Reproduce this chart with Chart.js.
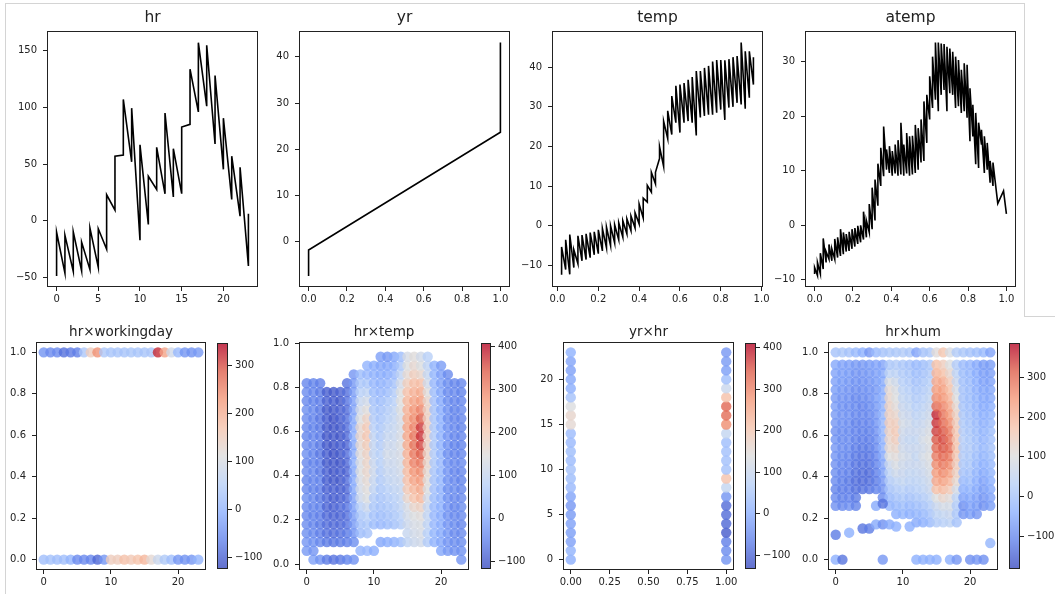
<!DOCTYPE html>
<html>
<head>
<meta charset="utf-8">
<script src="https://cdn.jsdelivr.net/npm/chart.js@4"></script>
<style>
  body { margin: 0; background: #fff; width: 1055px; height: 594px; overflow: hidden; position: relative; }
  .ln { position: absolute; border-color: #d4d4d4; border-style: solid; border-width: 0; }
</style>
</head>
<body>
<div class="ln" style="left:5px;top:3px;width:1018px;height:313px;border-width:1px 1px 0 1px"></div>
<div class="ln" style="left:5px;top:316px;width:0;height:278px;border-left-width:1px"></div>
<div class="ln" style="left:1024px;top:316px;width:31px;height:0;border-top-width:1px"></div>
<script>
// === data ===
const _ = null;
const hrX = [0,1,2,3,4,5,6,7,8,9,10,11,12,13,14,15,16,17,18,19,20,21,22,23];

// top row: line plots, each x has a low and a high value
const hrLow  = [-48.6,-46,-44.5,-44,-43,-41,-25,9.4,58,52,-17,-3.2,27.6,23.8,21,24,85,96,101,67.7,45.4,18.8,4.1,-39.8];
const hrHigh = [-10,-12.6,-9.6,-18.7,-6.4,-7,23,57,107,99.3,67,39.3,64.8,95,63.6,82.6,133.6,157,154.7,128,90.5,57,47.2,6.2];

const yrX = [0, 0, 1, 1];
const yrY = [-7.4, -1.8, 23.7, 43.1];

const tempX = [0.02,0.04,0.06,0.08,0.10,0.12,0.14,0.16,0.18,0.20,0.22,0.24,0.26,0.28,0.30,0.32,0.34,0.36,0.38,0.40,0.42,0.44,0.46,0.48,
               0.50,0.52,0.54,0.56,0.58,0.60,0.62,0.64,0.66,0.68,0.70,0.72,0.74,0.76,0.78,0.80,0.82,0.84,0.86,0.88,0.90,0.92,0.94,0.96];
const tempLow  = [-12.3,-11,-12.2,-10.5,-9.5,-8.8,-8.5,-8,-7.3,-7,-6.3,-5.5,-5,-4.3,-3.5,-2.8,-2,-1.2,-0.5,0.5,2,6,8.5,10.6,
                  17,15,22,23,26,23.5,26,26.4,26,22.8,27.3,27.7,28,28,28.5,29.3,26.7,29.8,30,31,30.6,29.5,32.3,35.6];
const tempHigh = [-5.3,-3.5,-2.2,-6,-2.5,-2.3,-2,-1.7,-1.5,-1,-0.7,-0.3,0,0.3,0.8,1.3,1.8,2.5,3.3,5.5,7,10.2,13.5,13.5,
                  20,26.4,29,32.7,35.3,35.6,36,36.8,37.5,39,39,39.8,40.3,41.4,41.8,41.8,41.7,42,42.5,42.8,46.2,44,44,42.5];

const atempX = [0,0.015,0.03,0.045,0.06,0.075,0.09,0.105,0.12,0.135,0.15,0.165,0.18,0.195,0.21,0.225,0.24,0.255,0.27,0.285,
                0.30,0.315,0.33,0.345,0.36,0.375,0.39,0.405,0.42,0.435,0.45,0.465,0.48,0.495,0.51,0.525,0.54,0.555,0.57,0.585,
                0.60,0.615,0.63,0.645,0.66,0.675,0.69,0.705,0.72,0.735,0.75,0.765,0.78,0.795,0.81,0.825,0.84,0.855,0.87,0.885,
                0.90,0.915,0.93,0.955,0.985,1.0];
const atempLow  = [-8.9,-9.2,-8.9,-8,-6.8,-6.2,-6.5,-6.2,-5.9,-5.6,-5.3,-4.8,-4.7,-4.3,-3.9,-3.4,-3.1,-2.6,-2.2,-1.3,
                   -0.7,0.9,3.6,7.2,9,10.2,9.6,9.1,9.5,9.1,9.3,9.1,9.5,9.1,9.3,9.6,10.2,11.5,11.8,15.1,
                   19.4,21.5,23,20.9,23.9,24.8,20.9,24.2,23.9,21.5,21.8,20.6,20.9,19.7,15.4,16.3,11.2,10.5,14.8,9.6,
                   10.2,7.8,7.2,4,6.3,2.1];
const atempHigh = [-7.7,-6.8,-5.1,-2.4,-4.8,-3.5,-4.3,-2.5,-2.2,-0.7,-1.3,-1.6,-1.2,-0.7,-0.5,-0.1,0,2.5,0.9,3.9,
                   6.9,8.4,11.3,14.2,18.1,13.9,14.5,13.6,14.8,15.6,18.8,14.8,16.9,16.3,16.4,18.4,17.8,19.4,22.7,23.9,
                   27.3,30.9,33.5,33.5,33.3,33.2,32.7,32.4,31.8,30.9,30.3,28.5,29.7,29.4,25.1,22.1,20.6,18.8,17.5,16.3,
                   15.1,11.8,11.5,_,_,_];

// tick labels
const hrYTicks = [-50, 0, 50, 100, 150];
const hrXTicks = [0, 5, 10, 15, 20];
const unitTicks = [0, 0.2, 0.4, 0.6, 0.8, 1.0];
const yrYTicks = [0, 10, 20, 30, 40];
const tempYTicks = [-10, 0, 10, 20, 30, 40];
const atempYTicks = [-10, 0, 10, 20, 30];
const hr10Ticks = [0, 10, 20];
const quarterTicks = [0, 0.25, 0.5, 0.75, 1.0];
const hr5Ticks = [0, 5, 10, 15, 20];
const cb300Ticks = [-100, 0, 100, 200, 300];
const cb400Ticks = [-100, 0, 100, 200, 300, 400];

// bottom row: hr x workingday (colour value per hour)
const wd1Vals = [-44,-55,-55,-85,-75,-70,36,150,238,36,30,30,28,32,30,30,34,322,214,88,10,-40,-45,-35];
const wd0Vals = [20,22,18,20,0,-55,-55,-60,-95,-40,150,150,175,160,170,190,125,80,40,20,-40,-45,-40,0];

// hr x temp: temp levels and colour value per hour (rows) and level (columns)
const tempLevels = [0.02,0.06,0.10,0.14,0.18,0.22,0.26,0.30,0.34,0.38,0.42,0.46,0.50,0.54,0.58,0.62,0.66,0.70,0.74,0.78,0.82,0.86,0.90,0.94];
const hrTempVals = [
  [_,-20,-25,-35,-40,-45,-40,-35,-45,-50,-40,-45,-35,-40,-50,-45,-40,-35,-45,-40,-45,_,_,_],
  [-10,-25,-30,-40,-45,-50,-45,-40,-50,-45,-40,-50,-45,-40,-45,-50,-45,-40,-50,-45,-50,_,_,_],
  [-30,_,-45,-55,-60,-55,-50,-60,-55,-50,-60,-55,-65,-60,-55,-60,-65,-60,-55,-60,-55,_,_,_],
  [-60,_,-60,-70,-75,-80,-85,-80,-90,-95,-90,-100,-95,-100,-105,-100,-95,-100,-90,-95,_,_,_,_],
  [-70,_,-65,-75,-80,-85,-90,-95,-90,-100,-105,-100,-110,-105,-100,-105,-110,-100,-95,-100,_,_,_,_],
  [-65,_,-60,-70,-80,-85,-80,-90,-95,-100,-95,-105,-100,-95,-105,-100,-95,-90,-100,-90,_,_,_,_],
  [-50,_,-55,-60,-70,-75,-70,-80,-85,-80,-90,-85,-80,-90,-85,-80,-75,-80,-70,-75,-70,_,_,_],
  [-30,_,-35,-30,-20,-15,-10,-5,0,5,0,10,5,0,10,5,0,-5,-10,-15,-20,-25,_,_],
  [_,20,_,40,50,60,80,110,120,130,140,135,150,160,170,165,140,120,100,80,60,40,_,_],
  [_,30,_,50,60,80,110,140,150,160,170,175,180,195,205,200,180,150,120,90,60,30,20,_],
  [_,10,_,_,40,50,60,70,90,100,110,105,90,95,90,80,70,60,50,40,30,20,10,_],
  [_,_,0,_,30,40,50,55,60,65,70,75,80,70,65,60,55,50,40,30,20,10,0,-10],
  [_,_,10,_,40,50,60,70,80,90,100,110,120,110,100,90,80,70,60,40,30,10,0,-20],
  [_,_,20,_,50,60,70,80,90,100,105,110,115,110,105,100,95,90,80,70,50,30,10,0],
  [_,_,40,_,70,80,90,95,100,110,120,125,130,135,130,125,130,140,145,140,120,90,60,40],
  [_,_,90,100,110,120,130,170,200,215,225,235,240,250,255,260,250,240,230,215,190,160,140,130],
  [_,_,110,120,130,140,170,210,230,260,280,300,310,320,315,300,290,280,260,240,220,190,165,150],
  [_,_,120,130,135,150,180,230,250,270,290,310,340,360,375,370,340,300,270,250,220,170,140,120],
  [_,_,70,80,90,95,100,120,140,150,160,170,175,180,185,190,185,180,170,150,120,100,90,80],
  [_,_,20,25,30,30,35,40,45,50,55,60,65,60,65,60,55,50,45,40,30,25,20,_],
  [_,0,0,5,10,10,15,20,20,25,25,30,25,20,20,15,15,10,5,0,-5,-10,-15,_],
  [_,-20,-25,-20,-25,-30,-25,-30,-35,-30,-25,-30,-35,-30,-25,-30,-35,-30,-35,-40,-35,-40,_,_],
  [_,-30,-35,-40,-35,-40,-45,-40,-35,-40,-45,-40,-45,-50,-45,-40,-45,-50,-45,-40,-45,_,_,_],
  [-25,-30,-35,-40,-45,-40,-35,-40,-45,-50,-45,-40,-45,-50,-45,-50,-45,-40,-45,-50,-45,_,_,_]
];

// yr x hr: colour value per hour for yr = 0 and yr = 1
const yr0Vals = [0,10,-20,-25,-20,-30,-35,-15,20,30,40,25,30,20,25,155,165,135,40,0,-10,-20,-15,5];
const yr1Vals = [-40,-55,-70,-115,-100,-95,-95,-40,90,210,40,35,35,30,90,290,330,335,215,100,30,-25,-30,-35];

// hr x hum: humidity levels of the main cloud, the 1.0 row and loose points
const humLevels = [0.18,0.22,0.26,0.30,0.34,0.38,0.42,0.46,0.50,0.54,0.58,0.62,0.66,0.70,0.74,0.78,0.82,0.86,0.90,0.94];
const hrHumVals = [
  [_,_,-90,-100,-110,-100,-95,-90,-85,-80,-85,-90,-80,-75,-70,-75,-70,-65,-60,-55],
  [_,_,-100,-110,-115,-110,-105,-100,-95,-90,-95,-90,-85,-80,-85,-80,-75,-70,-65,-60],
  [_,_,-90,-105,-115,-120,-110,-105,-100,-95,-90,-95,-90,-85,-90,-85,-80,-75,-70,-65],
  [_,_,-110,-120,-130,-135,-130,-125,-120,-115,-110,-105,-110,-100,-95,-100,-90,-85,-80,-75],
  [_,_,_,_,-130,-140,-135,-130,-125,-120,-115,-110,-105,-100,-105,-95,-90,-85,-80,-75],
  [_,_,_,_,-125,-135,-140,-130,-125,-120,-115,-110,-105,-100,-95,-90,-85,-80,-75,-70],
  [_,_,_,_,-110,-120,-115,-110,-105,-100,-95,-90,-85,-80,-75,-70,-75,-70,-65,-60],
  [_,_,_,-100,-90,-80,-70,-60,-50,-40,-35,-30,-25,-30,-35,-40,-45,-50,-55,-60],
  [_,_,-30,-20,0,20,40,60,100,120,130,140,150,145,140,130,120,90,40,10],
  [_,-40,-20,0,20,40,70,90,110,130,150,160,150,130,110,100,90,70,40,20],
  [_,-30,-10,10,30,50,60,70,80,70,60,70,80,70,60,50,40,30,20,10],
  [_,-40,-20,0,20,40,50,60,70,60,50,60,70,60,50,40,30,20,10,0],
  [-50,-30,-10,10,30,40,50,60,50,60,50,60,50,40,30,20,10,0,-10,-20],
  [-40,-20,0,20,40,50,60,70,80,70,80,70,60,50,40,30,20,10,0,-10],
  [-20,0,20,40,60,70,80,90,100,90,100,90,80,70,60,50,40,30,20,10],
  [20,40,60,100,180,220,240,260,280,300,320,340,350,360,300,260,240,220,200,180],
  [30,50,80,130,190,230,260,280,300,320,330,320,300,290,270,250,240,220,180,150],
  [40,60,80,110,160,200,230,260,280,300,290,280,260,240,220,200,180,160,130,100],
  [0,10,20,40,80,120,140,150,160,170,165,160,150,140,120,100,80,60,40,20],
  [_,-80,-90,-60,-40,-20,0,10,20,20,25,20,15,10,5,0,0,-5,-10,-15],
  [_,-70,-60,-50,-30,-10,0,10,15,20,15,10,5,0,-5,-10,-10,-15,-20,-25],
  [_,-80,-70,-60,-50,-40,-30,-20,-10,0,-5,-10,-15,-20,-25,-30,-35,-40,-45,-50],
  [_,_,-90,-80,-70,-60,-50,-40,-30,-20,-25,-30,-35,-40,-45,-50,-55,-60,-65,-70],
  [_,_,-70,-60,-50,-40,-30,-20,-10,0,-5,-10,-20,-30,-40,-50,-55,-60,-65,-70]
];
const hum1Vals = [0,10,0,-20,-40,-80,-20,0,10,10,20,10,-60,0,10,110,170,90,20,10,0,-10,-20,-60];
const humExtraX = [0,2,4,5,6,7,6,7,8,9,11,23, 0,1,7,12,13,14,15,17,18,20,21,22];
const humExtraY = [0.12,0.13,0.15,0.15,0.17,0.17,0.26,0.27,0.17,0.16,0.16,0.08, 0,0,0,0,0,0,0,0,0,0,0,0];
const humExtraV = [-120,-40,-130,-120,-50,-90,-50,-130,-50,-40,-40,-30, -40,-130,-80,-40,-40,-40,-40,-40,-80,-90,-80,-90];

// === styles ===
const INK = '#222';
const ALPHA = 0.8;
const COOLWARM = [[59,76,192],[98,130,234],[141,176,254],[184,208,247],[221,221,221],[245,196,173],[244,154,123],[222,96,77],[180,4,38]];

function cw(v, lo, hi) {
  let t = Math.min(1, Math.max(0, (v - lo) / (hi - lo))) * (COOLWARM.length - 1);
  const i = Math.min(COOLWARM.length - 2, Math.floor(t)), f = t - i;
  const a = COOLWARM[i], b = COOLWARM[i + 1];
  const c = a.map((x, k) => Math.round(x + (b[k] - x) * f));
  return `rgba(${c[0]},${c[1]},${c[2]},${ALPHA})`;
}

function fmt(v, dec) {
  const s = Math.abs(v).toFixed(dec);
  return v < -1e-9 ? '\u2212' + s : s;
}

Chart.defaults.font.family = '"DejaVu Sans", sans-serif';
Chart.defaults.color = INK;
Chart.defaults.animation = false;

const boxPlugin = {
  id: 'box',
  afterDraw(c) {
    const a = c.chartArea, x = c.ctx;
    x.save();
    x.strokeStyle = INK; x.lineWidth = 1;
    x.strokeRect(Math.round(a.left) + 0.5, Math.round(a.top) + 0.5, Math.round(a.right - a.left) - 1, Math.round(a.bottom - a.top) - 1);
    x.restore();
  }
};

function axis(pos, min, max, ticks, dec, size, pad) {
  const vertical = pos === 'left' || pos === 'right';
  return {
    type: 'linear', position: pos, min, max,
    afterBuildTicks: s => { s.ticks = ticks.map(v => ({ value: v })); },
    afterFit: s => { if (vertical) s.width = size; else s.height = size; },
    grid: { display: true, drawOnChartArea: false, drawTicks: true, tickLength: 4, color: INK, lineWidth: 1 },
    border: { display: false },
    ticks: { font: { size: 10 }, color: INK, padding: pad, maxRotation: 0, autoSkip: false, callback: v => fmt(v, dec) }
  };
}

function addCanvas(L, T, W, H) {
  const cv = document.createElement('canvas');
  cv.width = W; cv.height = H;
  cv.style.cssText = `position:absolute;left:${L}px;top:${T}px;width:${W}px;height:${H}px`;
  document.body.appendChild(cv);
  return cv;
}

const YW = 44, XH = 22, RP = 12;

function plot(box, title, big, datasets, xs, ys) {
  const TH = big ? 30 : 22;
  const fs = big ? 15.5 : 13.5;
  const pt = big ? 8 : 4.4;
  const W = box[2] - box[0] + YW + RP, H = box[3] - box[1] + TH + XH;
  const cv = addCanvas(box[0] - YW, box[1] - TH, W, H);
  return new Chart(cv, {
    type: 'scatter',
    data: { datasets },
    options: {
      responsive: false, devicePixelRatio: 1,
      layout: { padding: { left: 0, right: RP, top: 0, bottom: 0 } },
      plugins: {
        legend: { display: false }, tooltip: { enabled: false },
        title: { display: true, fullSize: false, text: title, color: INK, font: { size: fs, weight: 'normal' },
                 padding: { top: pt, bottom: TH - pt - fs * 1.2 } }
      },
      scales: {
        x: axis('bottom', xs[0], xs[1], xs[2], xs[3], XH, 2),
        y: axis('left', ys[0], ys[1], ys[2], ys[3], YW, 6)
      }
    },
    plugins: [boxPlugin]
  });
}

function colorbar(box, lo, hi, ticks) {
  const PL = 4, PV = 8, AW = 40;
  const W = box[2] - box[0] + PL + AW, H = box[3] - box[1] + 2 * PV;
  const cv = addCanvas(box[0] - PL, box[1] - PV, W, H);
  const grad = {
    id: 'grad',
    beforeDraw(c) {
      const a = c.chartArea, x = c.ctx;
      const g = x.createLinearGradient(0, a.bottom, 0, a.top);
      COOLWARM.forEach((col, i) => g.addColorStop(i / (COOLWARM.length - 1), `rgba(${col[0]},${col[1]},${col[2]},${ALPHA})`));
      x.save(); x.fillStyle = g; x.fillRect(a.left, a.top, a.right - a.left, a.bottom - a.top); x.restore();
    }
  };
  return new Chart(cv, {
    type: 'scatter',
    data: { datasets: [] },
    options: {
      responsive: false, devicePixelRatio: 1,
      layout: { padding: { left: PL, right: 0, top: PV, bottom: PV } },
      plugins: { legend: { display: false }, tooltip: { enabled: false } },
      scales: {
        x: { display: false, min: 0, max: 1 },
        y: axis('right', lo, hi, ticks, 0, AW, 3)
      }
    },
    plugins: [grad, boxPlugin]
  });
}

function lineSet(pts) {
  return { data: pts, showLine: true, borderColor: '#000', borderWidth: 1.6, pointRadius: 0, fill: false, tension: 0 };
}
function dotSet(pts, cols) {
  return { data: pts, backgroundColor: cols, borderWidth: 0, pointRadius: 5.2, pointHoverRadius: 5.2 };
}

// === top row ===
const hrPts = [];
hrX.forEach((x, i) => hrPts.push({ x, y: hrLow[i] }, { x, y: hrHigh[i] }));
plot([47, 31, 258, 287], 'hr', true, [lineSet(hrPts)], [-1.15, 24.15, hrXTicks, 0], [-58.25, 167.25, hrYTicks, 0]);

const yrPts = yrX.map((x, i) => ({ x, y: yrY[i] }));
plot([299, 31, 510, 287], 'yr', true, [lineSet(yrPts)], [-0.05, 1.05, unitTicks, 1], [-9.8, 45.6, yrYTicks, 0]);

const tempPts = [];
tempX.forEach((x, i) => tempPts.push({ x, y: tempLow[i] }, { x, y: tempHigh[i] }));
plot([552, 31, 763, 287], 'temp', true, [lineSet(tempPts)], [-0.027, 1.007, unitTicks, 1], [-15.4, 49.1, tempYTicks, 0]);

const atempPts = [];
atempX.forEach((x, i) => {
  atempPts.push({ x, y: atempLow[i] });
  if (atempHigh[i] != null) atempPts.push({ x, y: atempHigh[i] });
});
plot([805, 31, 1016, 287], 'atemp', true, [lineSet(atempPts)], [-0.05, 1.05, unitTicks, 1], [-11.3, 35.6, atempYTicks, 0]);

// === bottom row ===
const WD = [-124, 346];
const wdPts = [], wdCols = [];
hrX.forEach((h, i) => {
  wdPts.push({ x: h, y: 1 }); wdCols.push(cw(wd1Vals[i], WD[0], WD[1]));
  wdPts.push({ x: h, y: 0 }); wdCols.push(cw(wd0Vals[i], WD[0], WD[1]));
});
plot([36, 342, 206, 570], 'hr\u00d7workingday', false, [dotSet(wdPts, wdCols)], [-1.15, 24.15, hr10Ticks, 0], [-0.05, 1.05, unitTicks, 1]);
colorbar([217, 342, 228, 570], WD[0], WD[1], cb300Ticks);

const HT = [-118, 408];
const htPts = [], htCols = [];
hrX.forEach((h, i) => tempLevels.forEach((lv, j) => {
  const v = hrTempVals[i][j];
  if (v == null) return;
  htPts.push({ x: h, y: lv }); htCols.push(cw(v, HT[0], HT[1]));
}));
plot([299, 342, 469, 570], 'hr\u00d7temp', false, [dotSet(htPts, htCols)], [-1.15, 24.15, hr10Ticks, 0], [-0.027, 1.007, unitTicks, 1]);
colorbar([481, 342, 491, 570], HT[0], HT[1], cb400Ticks);

const YH = [-133, 411];
const yhPts = [], yhCols = [];
hrX.forEach((h, i) => {
  yhPts.push({ x: 0, y: h }); yhCols.push(cw(yr0Vals[i], YH[0], YH[1]));
  yhPts.push({ x: 1, y: h }); yhCols.push(cw(yr1Vals[i], YH[0], YH[1]));
});
plot([563, 342, 734, 570], 'yr\u00d7hr', false, [dotSet(yhPts, yhCols)], [-0.05, 1.05, quarterTicks, 2], [-1.15, 24.15, hr5Ticks, 0]);
colorbar([745, 342, 756, 570], YH[0], YH[1], cb400Ticks);

const HH = [-183, 387];
const hhPts = [], hhCols = [];
hrX.forEach((h, i) => {
  hhPts.push({ x: h, y: 1 }); hhCols.push(cw(hum1Vals[i], HH[0], HH[1]));
  humLevels.forEach((lv, j) => {
    const v = hrHumVals[i][j];
    if (v == null) return;
    hhPts.push({ x: h, y: lv }); hhCols.push(cw(v, HH[0], HH[1]));
  });
});
humExtraX.forEach((h, i) => { hhPts.push({ x: h, y: humExtraY[i] }); hhCols.push(cw(humExtraV[i], HH[0], HH[1])); });
plot([828, 342, 998, 570], 'hr\u00d7hum', false, [dotSet(hhPts, hhCols)], [-1.15, 24.15, hr10Ticks, 0], [-0.05, 1.05, unitTicks, 1]);
colorbar([1009, 342, 1020, 570], HH[0], HH[1], cb300Ticks);
</script>
</body>
</html>
